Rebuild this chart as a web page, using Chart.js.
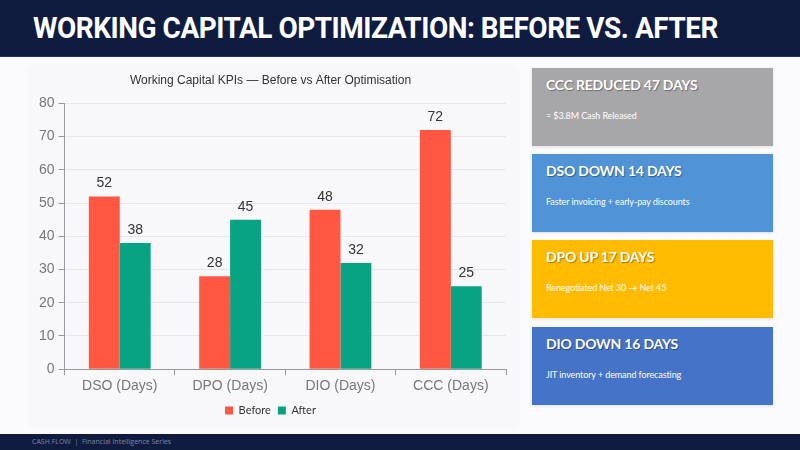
<!DOCTYPE html>
<html><head><meta charset="utf-8">
<script src="https://cdn.jsdelivr.net/npm/chart.js@4/dist/chart.umd.min.js"></script>
<style>
html,body{margin:0;padding:0;width:800px;height:450px;overflow:hidden;background:#fbfbfd;font-family:"Liberation Sans",Arial,sans-serif;}
#header{position:absolute;left:0;top:0;width:800px;height:56px;background:#0f1c40;border-bottom:1px solid #2a3556;}
#title{position:absolute;left:33px;top:10px;color:#fff;font-family:Roboto,"Noto Sans",sans-serif;font-weight:700;font-size:30px;white-space:nowrap;transform-origin:left top;letter-spacing:-0.5px;}
#panel{position:absolute;left:30px;top:67px;width:488px;height:359px;background:#f8f8fb;box-shadow:0 0 4px rgba(0,0,0,0.04);}
#chartwrap{position:absolute;left:0;top:0;width:488px;height:359px;}
.card{position:absolute;left:532px;width:241px;height:78px;color:#fff;font-family:Lato,"Open Sans",sans-serif;box-shadow:0 1px 3px rgba(0,0,0,0.12);}
.card .t{position:absolute;left:14px;top:8px;font-weight:700;font-size:14px;text-shadow:1px 1px 1px rgba(0,0,0,0.35);letter-spacing:-0.2px;}
.card .s{position:absolute;left:14px;top:42px;font-size:9px;letter-spacing:-0.1px;}
#footer{position:absolute;left:0;top:434px;width:800px;height:16px;background:#0f1c40;}
#footer span{position:absolute;left:32px;top:3px;font-family:"Open Sans",sans-serif;font-size:7px;color:#7f88a3;}
</style></head>
<body>
<div id="header"><div id="title">WORKING CAPITAL OPTIMIZATION: BEFORE VS. AFTER</div></div>
<div id="panel"><div id="chartwrap"><canvas id="c"></canvas></div></div>
<div class="card" style="top:68px;background:#a7a6a9;"><div class="t">CCC REDUCED 47 DAYS</div><div class="s">= $3.8M Cash Released</div></div>
<div class="card" style="top:154px;background:#5093d7;"><div class="t">DSO DOWN 14 DAYS</div><div class="s">Faster invoicing + early-pay discounts</div></div>
<div class="card" style="top:240px;background:#ffbb00;"><div class="t">DPO UP 17 DAYS</div><div class="s">Renegotiated Net 30 → Net 45</div></div>
<div class="card" style="top:327px;background:#4573c8;"><div class="t">DIO DOWN 16 DAYS</div><div class="s">JIT inventory + demand forecasting</div></div>
<div id="footer"><span>CASH FLOW &nbsp;|&nbsp; Financial Intelligence Series</span></div>
<script>
const categories = ["DSO (Days)", "DPO (Days)", "DIO (Days)", "CCC (Days)"];
const beforeValues = [52, 28, 48, 72];
const afterValues = [38, 45, 32, 25];
const seriesNames = ["Before", "After"];
const chartTitle = "Working Capital KPIs — Before vs After Optimisation";

// fit header title width
const tt = document.getElementById('title');
const w = tt.getBoundingClientRect().width;
tt.style.transform = 'scaleX(' + (685 / w) + ')';

const valueLabels = {
  id: 'valueLabels',
  afterDatasetsDraw(chart) {
    const ctx = chart.ctx;
    ctx.save();
    ctx.font = '14px "Liberation Sans", Arial, sans-serif';
    ctx.fillStyle = '#333';
    ctx.textAlign = 'center';
    ctx.textBaseline = 'bottom';
    chart.data.datasets.forEach((ds, i) => {
      const meta = chart.getDatasetMeta(i);
      meta.data.forEach((el, j) => {
        ctx.fillText(String(ds.data[j]), el.x, el.y - 6);
      });
    });
    ctx.restore();
  }
};

new Chart(document.getElementById('c'), {
  type: 'bar',
  data: {
    labels: categories,
    datasets: [
      { label: seriesNames[0], data: beforeValues, backgroundColor: '#ff5741', borderWidth: 0 },
      { label: seriesNames[1], data: afterValues, backgroundColor: '#07a382', borderWidth: 0 }
    ]
  },
  options: {
    responsive: true,
    maintainAspectRatio: false,
    animation: false,
    layout: { padding: { left: 5, right: 12, top: 4, bottom: 0 } },
    barPercentage: 1.0,
    categoryPercentage: 0.56,
    plugins: {
      title: { display: true, text: chartTitle, color: '#333', font: { family: '"Liberation Sans", Arial, sans-serif', size: 12, weight: 'normal' }, padding: { top: 2, bottom: 16 } },
      legend: { position: 'bottom', labels: { boxWidth: 8, boxHeight: 8, color: '#333', font: { family: 'Lato, "Open Sans", sans-serif', size: 11 }, padding: 7 } },
      tooltip: { enabled: false }
    },
    scales: {
      x: {
        grid: { drawOnChartArea: false, drawTicks: true, color: '#999', tickLength: 6 },
        border: { color: '#999' },
        ticks: { color: '#777', font: { family: '"Liberation Sans", Arial, sans-serif', size: 14 } }
      },
      y: {
        min: 0, max: 80,
        ticks: { stepSize: 10, color: '#777', font: { family: '"Liberation Sans", Arial, sans-serif', size: 14 }, padding: 4 },
        grid: { color: '#e6e6ec', tickLength: 6, tickColor: '#999' },
        border: { color: '#999' }
      }
    }
  },
  plugins: [valueLabels]
});
</script>
</body></html>
